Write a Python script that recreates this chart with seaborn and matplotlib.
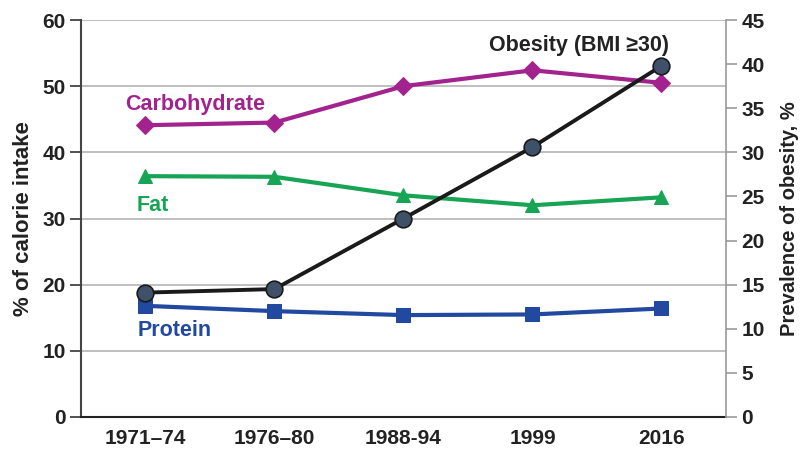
import numpy as np
import pandas as pd
import seaborn as sns
import matplotlib
matplotlib.use("Agg")
import matplotlib.pyplot as plt

periods = ["1971–74", "1976–80", "1988-94", "1999", "2016"]
carbohydrate = [44.1, 44.5, 50.0, 52.4, 50.5]
fat = [36.4, 36.3, 33.5, 32.0, 33.2]
protein = [16.8, 16.0, 15.4, 15.5, 16.4]
obesity = [14.1, 14.5, 22.5, 30.6, 39.8]

sns.set_style("white")
plt.rcParams["font.family"] = ["Liberation Sans", "DejaVu Sans"]
plt.rcParams["font.weight"] = "bold"

df = pd.DataFrame({"period": periods, "Carbohydrate": carbohydrate,
                   "Fat": fat, "Protein": protein, "Obesity": obesity})
x = np.arange(len(periods))

fig = plt.figure(figsize=(8.03, 4.49), dpi=100)
ax = fig.add_axes([81 / 803, 1 - 417 / 449, (726 - 81) / 803, (417 - 20) / 449])
ax2 = ax.twinx()

grid_c = "#b4b4b4"
for v in range(10, 61, 10):
    ax.axhline(v, color=grid_c, lw=1.2, zorder=0)

# macronutrient series on left axis
styles = {"Carbohydrate": ("#a3238e", "D", 9),
          "Fat": ("#17a455", "^", 10),
          "Protein": ("#2149a0", "s", 10)}
for name, (col, mk, ms) in styles.items():
    sns.lineplot(x=x, y=df[name], ax=ax, color=col, marker=mk, markersize=ms,
                 markeredgecolor=col, linewidth=3, zorder=3)

# obesity on right axis
sns.lineplot(x=x, y=df["Obesity"], ax=ax2, color="#1a1a1a", marker="o",
             markersize=12, markerfacecolor="#3f5169", markeredgecolor="#1a1a1a",
             markeredgewidth=1.2, linewidth=2.8, zorder=4)

ax.set_xlim(-0.5, 4.5)
ax.set_ylim(0, 60)
ax2.set_ylim(0, 45)
ax.set_yticks(range(0, 61, 10))
ax2.set_yticks(range(0, 46, 5))
ax.set_xticks(np.arange(-0.5, 4.6, 1))
ax.set_xticklabels([])
ax.set_xticks(x, minor=True)
ax.set_xticklabels(periods, minor=True)
ax.tick_params(axis="x", which="minor", length=0, pad=9, labelsize=15)
ax.tick_params(axis="x", which="major", length=7, width=1.2, color="#333333", direction="out")
ax.tick_params(axis="y", length=8, width=1.2, color="#333333", direction="out", labelsize=15, pad=3,
               left=True)
ax2.tick_params(axis="y", length=8, width=1.2, color="#999999", direction="out", labelsize=15, pad=3,
                right=True)
for t in ax.get_xticklabels(minor=True) + ax.get_yticklabels() + ax2.get_yticklabels():
    t.set_fontweight("bold")
    t.set_color("#222222")

for a in (ax, ax2):
    a.spines["top"].set_visible(False)
ax.spines["left"].set_color("#444444")
ax.spines["left"].set_linewidth(1.5)
ax.spines["bottom"].set_color("#222222")
ax.spines["bottom"].set_linewidth(1.5)
ax.spines["right"].set_visible(False)
ax2.spines["left"].set_visible(False)
ax2.spines["bottom"].set_visible(False)
ax2.spines["right"].set_color("#999999")
ax2.spines["right"].set_linewidth(1.2)

ax.set_xlabel("")
ax.set_ylabel("% of calorie intake", fontsize=16, fontweight="bold", color="#222222", labelpad=6)
ax2.set_ylabel("Prevalence of obesity, %", fontsize=14.5, fontweight="bold", color="#222222",
               labelpad=11)

ax.text(-0.16, 46.4, "Carbohydrate", color="#a3238e", fontsize=15.5, fontweight="bold")
ax.text(-0.07, 31.1, "Fat", color="#17a455", fontsize=15.5, fontweight="bold")
ax.text(-0.06, 12.2, "Protein", color="#2149a0", fontsize=15.5, fontweight="bold")
ax2.text(3.36, 41.5, "Obesity (BMI ≥30)", color="#222222", fontsize=15.5, fontweight="bold",
         ha="center")

fig.savefig("out.png", dpi=100, facecolor="white")
